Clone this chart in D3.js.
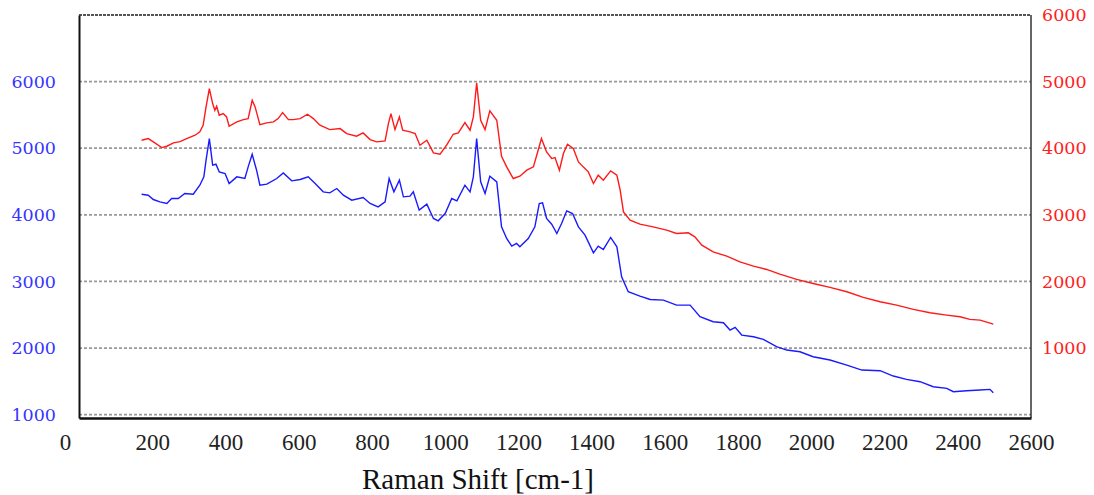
<!DOCTYPE html>
<html>
<head>
<meta charset="utf-8">
<script src="https://cdn.jsdelivr.net/npm/d3@7"></script>
<style>
  body { margin: 0; background: #fff; }
  svg { display: block; }
</style>
</head>
<body>
<div id="chart"></div>
<script>
// blue spectrum (left axis)
var blueShift = [171, 189, 203, 221, 240, 253, 271, 289, 312, 330, 341, 347, 356, 365, 374, 383, 399, 410, 431, 453,
    462, 473, 485, 494, 513, 540, 558, 581, 604, 626, 645, 667, 685, 704, 722, 745, 776, 795, 817, 836,
    847, 860, 875, 886, 904, 913, 929, 950, 968, 981, 1000, 1018, 1032, 1054, 1068, 1077, 1086, 1097, 1109, 1122,
    1141, 1154, 1168, 1182, 1195, 1204, 1227, 1245, 1257, 1266, 1277, 1291, 1305, 1318, 1332, 1348, 1364, 1382, 1405, 1418,
    1432, 1452, 1469, 1482, 1500, 1532, 1560, 1596, 1632, 1669, 1696, 1732, 1760, 1778, 1792, 1810, 1842, 1869, 1905, 1933,
    1969, 2005, 2051, 2097, 2138, 2188, 2224, 2260, 2297, 2333, 2370, 2388, 2424, 2461, 2488, 2497];
var blueCounts = [4310, 4295, 4230, 4195, 4170, 4245, 4245, 4320, 4310, 4445, 4570, 4820, 5145, 4745, 4760, 4645, 4620, 4470, 4570, 4545,
    4720, 4910, 4670, 4445, 4460, 4545, 4630, 4510, 4530, 4570, 4470, 4345, 4330, 4395, 4295, 4220, 4260, 4170, 4120, 4195,
    4545, 4345, 4520, 4270, 4280, 4345, 4070, 4160, 3945, 3910, 4020, 4245, 4210, 4445, 4345, 4570, 5145, 4495, 4320, 4580,
    4495, 3820, 3645, 3530, 3570, 3520, 3645, 3820, 4170, 4180, 3945, 3860, 3720, 3870, 4060, 4020, 3820, 3695, 3430, 3530,
    3480, 3660, 3520, 3070, 2845, 2780, 2730, 2720, 2645, 2645, 2470, 2395, 2380, 2270, 2310, 2195, 2170, 2130, 2020, 1970,
    1945, 1870, 1820, 1745, 1670, 1660, 1580, 1530, 1495, 1420, 1395, 1345, 1360, 1370, 1380, 1330];

// red spectrum (right axis)
var redShift = [171, 189, 203, 226, 240, 258, 276, 294, 317, 330, 339, 347, 356, 365, 371, 376, 383, 394, 403, 410,
    431, 449, 462, 473, 481, 494, 513, 531, 544, 556, 572, 585, 604, 624, 640, 658, 685, 713, 731, 758,
    776, 795, 813, 836, 845, 852, 863, 875, 884, 904, 918, 931, 950, 968, 986, 1004, 1022, 1036, 1054, 1068,
    1077, 1086, 1097, 1109, 1122, 1141, 1154, 1168, 1186, 1204, 1223, 1241, 1254, 1263, 1277, 1291, 1300, 1312, 1323, 1334,
    1350, 1364, 1377, 1391, 1405, 1418, 1432, 1452, 1469, 1478, 1487, 1505, 1532, 1568, 1605, 1632, 1664, 1682, 1701, 1732,
    1769, 1805, 1842, 1878, 1914, 1960, 2005, 2051, 2097, 2142, 2188, 2233, 2279, 2324, 2370, 2406, 2433, 2461, 2497];
var redCounts = [4120, 4145, 4095, 4010, 4030, 4080, 4100, 4145, 4195, 4245, 4345, 4620, 4895, 4670, 4570, 4630, 4495, 4520, 4470, 4330,
    4395, 4430, 4445, 4720, 4620, 4355, 4380, 4395, 4445, 4535, 4430, 4430, 4445, 4510, 4445, 4345, 4280, 4295, 4220, 4180,
    4230, 4130, 4095, 4110, 4370, 4520, 4280, 4470, 4270, 4245, 4220, 4045, 4120, 3930, 3910, 4045, 4210, 4230, 4385, 4270,
    4470, 4980, 4420, 4280, 4560, 4420, 3880, 3720, 3545, 3580, 3670, 3720, 3970, 4145, 3945, 3845, 3860, 3670, 3920, 4060,
    3995, 3795, 3720, 3645, 3470, 3595, 3520, 3660, 3595, 3370, 3045, 2920, 2860, 2820, 2770, 2720, 2730, 2670, 2545, 2445,
    2380, 2295, 2230, 2180, 2110, 2030, 1970, 1910, 1845, 1760, 1695, 1645, 1580, 1530, 1495, 1470, 1430, 1420, 1360];

var xTicks = [0, 200, 400, 600, 800, 1000, 1200, 1400, 1600, 1800, 2000, 2200, 2400, 2600];
var leftTicks = [1000, 2000, 3000, 4000, 5000, 6000];
var rightTicks = [1000, 2000, 3000, 4000, 5000, 6000];

var W = 1094, H = 495;
var plot = { left: 79, right: 1031, top: 15, bottom: 418 };

var svg = d3.select("#chart").append("svg")
    .attr("width", W)
    .attr("height", H);

var x = d3.scaleLinear().domain([0, 2600]).range([plot.left, plot.right]);
var yLeft = d3.scaleLinear().domain([950, 7000]).range([plot.bottom, plot.top]);
var yRight = d3.scaleLinear().domain([-50, 6000]).range([plot.bottom, plot.top]);

// dashed grid lines (left scale)
svg.append("g")
    .selectAll("line")
    .data(leftTicks).enter()
    .append("line")
    .attr("x1", plot.left)
    .attr("x2", plot.right)
    .attr("y1", function (d) { return yLeft(d); })
    .attr("y2", function (d) { return yLeft(d); })
    .attr("stroke", "#999")
    .attr("stroke-width", 1.8)
    .attr("stroke-dasharray", "3,2");

// frame: dashed top, solid others
svg.append("line")
    .attr("x1", plot.left).attr("x2", plot.right)
    .attr("y1", plot.top).attr("y2", plot.top)
    .attr("stroke", "#555").attr("stroke-width", 1.8)
    .attr("stroke-dasharray", "3,1");
svg.append("line")
    .attr("x1", plot.right).attr("x2", plot.right)
    .attr("y1", plot.top).attr("y2", plot.bottom)
    .attr("stroke", "#333").attr("stroke-width", 1.5);

// lines
var blueData = blueShift.map(function (s, i) { return [s, blueCounts[i]]; });
var redData = redShift.map(function (s, i) { return [s, redCounts[i]]; });

svg.append("path")
    .datum(redData)
    .attr("fill", "none")
    .attr("stroke", "#ff1a1a")
    .attr("stroke-width", 1.4)
    .attr("d", d3.line()
        .x(function (d) { return x(d[0]); })
        .y(function (d) { return yRight(d[1]); }));

svg.append("path")
    .datum(blueData)
    .attr("fill", "none")
    .attr("stroke", "#1a1aff")
    .attr("stroke-width", 1.4)
    .attr("d", d3.line()
        .x(function (d) { return x(d[0]); })
        .y(function (d) { return yLeft(d[1]); }));

// left axis
var gl = svg.append("g")
    .attr("transform", "translate(" + plot.left + ",0)")
    .call(d3.axisLeft(yLeft).tickValues(leftTicks).tickSize(0).tickPadding(23).tickFormat(d3.format("d")));
gl.select(".domain").attr("stroke", "#111").attr("stroke-width", 2);
gl.selectAll("text")
    .attr("fill", "#3535ff")
    .style("font-family", "DejaVu Serif")
    .style("font-size", "17.5px");

// right axis
var gr = svg.append("g")
    .attr("transform", "translate(" + plot.right + ",0)")
    .call(d3.axisRight(yRight).tickValues(rightTicks).tickSize(0).tickPadding(11).tickFormat(d3.format("d")));
gr.select(".domain").remove();
gr.selectAll("text")
    .attr("fill", "#ff2020")
    .style("font-family", "DejaVu Serif")
    .style("font-size", "17.5px");

// bottom axis
var gb = svg.append("g")
    .attr("transform", "translate(0," + plot.bottom + ")")
    .call(d3.axisBottom(x).tickValues(xTicks).tickSize(0).tickPadding(16).tickFormat(d3.format("d")));
gb.select(".domain").attr("stroke", "#111").attr("stroke-width", 2.5);
gb.selectAll("text")
    .attr("fill", "#222")
    .style("font-family", "Liberation Serif")
    .style("font-size", "23px");
// the "0" label sits left of the corner
gb.selectAll("text").filter(function (d) { return d === 0; }).attr("dx", -14);

// axis title
svg.append("text")
    .attr("x", 478)
    .attr("y", 489)
    .attr("text-anchor", "middle")
    .attr("fill", "#111")
    .style("font-family", "Liberation Serif")
    .style("font-size", "29px")
    .text("Raman Shift [cm-1]");
</script>
</body>
</html>
